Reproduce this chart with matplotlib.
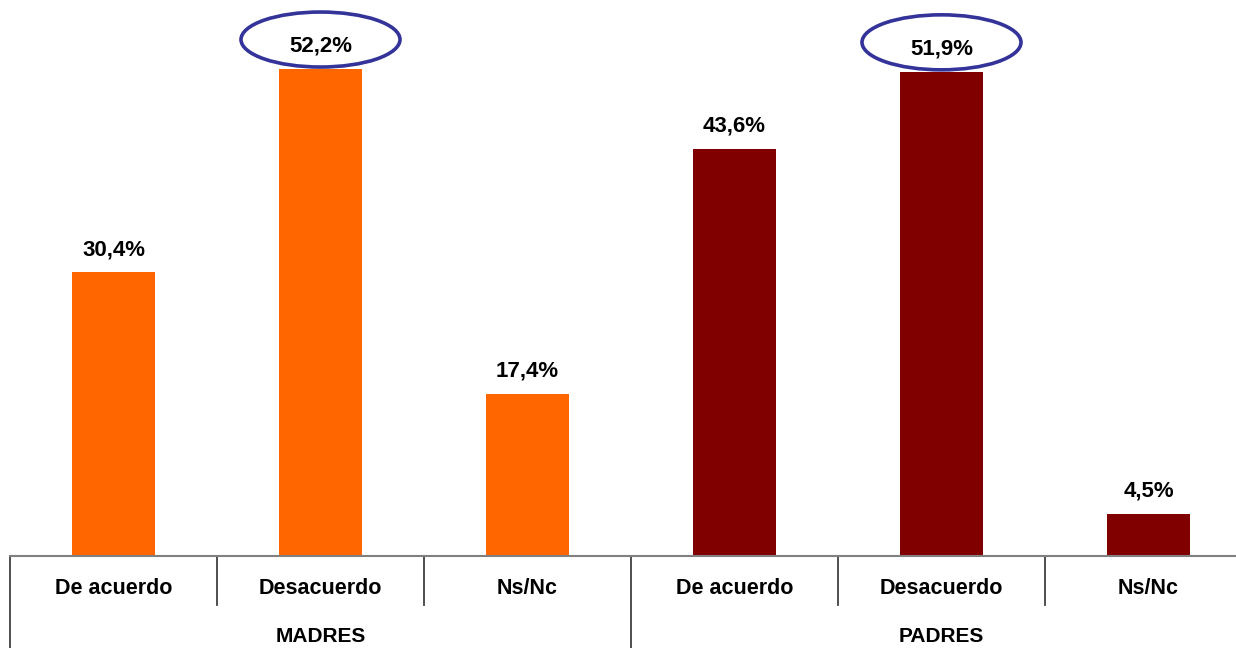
import matplotlib
matplotlib.use("Agg")
import matplotlib.pyplot as plt
from matplotlib.patches import Ellipse
import matplotlib.transforms as mtransforms

# ---- data ----
groups = ["MADRES", "PADRES"]
categories = ["De acuerdo", "Desacuerdo", "Ns/Nc"]
madres = [30.4, 52.2, 17.4]
padres = [43.6, 51.9, 4.5]
highlight = [1, 4]          # bars circled
group_colors = ["#FF6600", "#800000"]

values = madres + padres
labels = categories * 2
colors = [group_colors[0]] * 3 + [group_colors[1]] * 3
pct_labels = [f"{v:.1f}%".replace(".", ",") for v in values]

# ---- geometry (pixels) ----
W, H, DPI = 1236, 648, 100
ax_left_px, ax_base_px = 10, 556
cat_px = 207
n = len(values)
ymax = 59.6

fig = plt.figure(figsize=(W / DPI, H / DPI), dpi=DPI)
ax = fig.add_axes([ax_left_px / W, (H - ax_base_px) / H,
                   n * cat_px / W, ax_base_px / H])
ax.set_xlim(-0.5, n - 0.5)
ax.set_ylim(0, ymax)

x = list(range(n))
ax.bar(x, values, width=0.4, color=colors, zorder=2)

for s in ["top", "right", "left"]:
    ax.spines[s].set_visible(False)
ax.spines["bottom"].set_color("#808080")
ax.spines["bottom"].set_linewidth(1.5)
ax.set_xticks([])
ax.set_yticks([])

font = dict(family=["Liberation Sans", "DejaVu Sans"], weight="bold", color="black")
px_per_y = ax_base_px / ymax

# value labels
for xi, v, t in zip(x, values, pct_labels):
    ax.annotate(t, (xi, v), xytext=(0, 12.5), textcoords="offset points",
                ha="center", va="baseline", fontsize=16, **font)

# ellipses around highlighted values
for i in highlight:
    cy = values[i] + 29.5 / px_per_y
    e = Ellipse((x[i], cy), width=159 / cat_px, height=55 / px_per_y,
                fill=False, edgecolor="#333399", linewidth=2.6, zorder=3,
                clip_on=False)
    ax.add_patch(e)

# category separators and labels
trans = mtransforms.blended_transform_factory(ax.transData, ax.transAxes)
short_y = -49 / ax_base_px
long_y = -(H - ax_base_px) / ax_base_px
for b in range(n + 1):
    xb = b - 0.5
    yb = long_y if b % 3 == 0 else short_y
    ax.plot([xb, xb], [0, yb], transform=trans, color="#404040",
            linewidth=1.3, clip_on=False)

for xi, lab in zip(x, labels):
    ax.text(xi, -33 / ax_base_px, lab, transform=trans, ha="center",
            va="center", fontsize=15.5, **font)

for g, name in enumerate(groups):
    ax.text(g * 3 + 1, -80 / ax_base_px, name, transform=trans, ha="center",
            va="center", fontsize=15, **font)

fig.savefig("out.png", dpi=DPI)
